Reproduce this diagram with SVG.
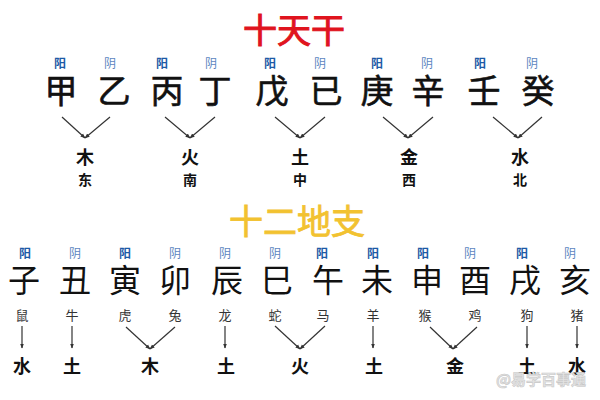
<svg xmlns="http://www.w3.org/2000/svg" width="600" height="400" viewBox="0 0 600 400">
<style>
text{font-family:"Noto Sans CJK SC","Noto Sans",sans-serif;text-anchor:middle}
.title1{font-size:34px;fill:#e0141e;stroke:#e0141e;stroke-width:1}
.title2{font-size:34px;fill:#f2c230;stroke:#f2c230;stroke-width:0.8}
.yang{font-size:12px;fill:#1d5aa6;font-weight:bold}
.yin{font-size:12px;fill:#5d86bf}
.stem{font-size:33px;fill:#111;stroke:#111;stroke-width:0.6}
.branch{font-size:32px;fill:#111}
.el{font-size:18px;font-weight:bold;fill:#111}
.dir{font-size:14px;font-weight:bold;fill:#111}
.el2{font-size:18px;font-weight:bold;fill:#111}
.animal{font-size:13px;fill:#333}
.wm{font-size:15px;font-weight:bold;fill:#e4e4e4;stroke:#c8c8c8;stroke-width:0.6;text-anchor:start}
.c{stroke:#333;stroke-width:1.2;fill:none;marker-end:url(#ah)}
</style>
<defs>
<marker id="ah" viewBox="0 0 10 10" refX="9" refY="5" markerWidth="5" markerHeight="5" orient="auto" markerUnits="userSpaceOnUse">
<path d="M0,1 L10,5 L0,9 z" fill="#333"/>
</marker>
</defs>
<rect width="600" height="400" fill="#fff"/>
<text id="title-tiangan" class="title1" x="294" y="43">十天干</text>
<text id="title-dizhi" class="title2" x="297" y="234">十二地支</text>

<g id="stems">
<g id="stem-jia"><text class="yang" x="60" y="68">阳</text><text class="stem" x="61" y="103">甲</text></g>
<g id="stem-yi"><text class="yin" x="110" y="68">阴</text><text class="stem" x="114" y="103">乙</text></g>
<g id="stem-bing"><text class="yang" x="162" y="68">阳</text><text class="stem" x="167" y="103">丙</text></g>
<g id="stem-ding"><text class="yin" x="211" y="68">阴</text><text class="stem" x="215" y="103">丁</text></g>
<g id="stem-wu"><text class="yang" x="270" y="68">阳</text><text class="stem" x="272" y="103">戊</text></g>
<g id="stem-ji"><text class="yin" x="320" y="68">阴</text><text class="stem" x="326" y="103">已</text></g>
<g id="stem-geng"><text class="yang" x="377" y="68">阳</text><text class="stem" x="377" y="103">庚</text></g>
<g id="stem-xin"><text class="yin" x="427" y="68">阴</text><text class="stem" x="428" y="103">辛</text></g>
<g id="stem-ren"><text class="yang" x="480" y="68">阳</text><text class="stem" x="484" y="103">壬</text></g>
<g id="stem-gui"><text class="yin" x="532" y="68">阴</text><text class="stem" x="538" y="103">癸</text></g>
</g>

<g id="stem-elements">
<g id="el-mu"><text class="el" x="85" y="164">木</text><text class="dir" x="85" y="185">东</text></g>
<g id="el-huo"><text class="el" x="190" y="164">火</text><text class="dir" x="190" y="185">南</text></g>
<g id="el-tu"><text class="el" x="300" y="164">土</text><text class="dir" x="300" y="185">中</text></g>
<g id="el-jin"><text class="el" x="409" y="164">金</text><text class="dir" x="409" y="185">西</text></g>
<g id="el-shui"><text class="el" x="520" y="164">水</text><text class="dir" x="520" y="185">北</text></g>
</g>

<g id="branches">
<g id="br-zi"><text class="yang" x="25" y="258">阳</text><text class="branch" x="24" y="292">子</text><text class="animal" x="22" y="320">鼠</text></g>
<g id="br-chou"><text class="yin" x="75" y="258">阴</text><text class="branch" x="75" y="292">丑</text><text class="animal" x="72" y="320">牛</text></g>
<g id="br-yin"><text class="yang" x="125" y="258">阳</text><text class="branch" x="125" y="292">寅</text><text class="animal" x="125" y="320">虎</text></g>
<g id="br-mao"><text class="yin" x="175" y="258">阴</text><text class="branch" x="175" y="292">卯</text><text class="animal" x="175" y="320">兔</text></g>
<g id="br-chen"><text class="yin" x="225" y="258">阴</text><text class="branch" x="227" y="292">辰</text><text class="animal" x="225" y="320">龙</text></g>
<g id="br-si"><text class="yin" x="275" y="258">阴</text><text class="branch" x="277" y="292">巳</text><text class="animal" x="275" y="320">蛇</text></g>
<g id="br-wu"><text class="yang" x="322" y="258">阳</text><text class="branch" x="328" y="292">午</text><text class="animal" x="323" y="320">马</text></g>
<g id="br-wei"><text class="yang" x="373" y="258">阳</text><text class="branch" x="377" y="292">未</text><text class="animal" x="373" y="320">羊</text></g>
<g id="br-shen"><text class="yang" x="423" y="258">阳</text><text class="branch" x="427" y="292">申</text><text class="animal" x="425" y="320">猴</text></g>
<g id="br-you"><text class="yin" x="470" y="258">阴</text><text class="branch" x="475" y="292">酉</text><text class="animal" x="475" y="320">鸡</text></g>
<g id="br-xu"><text class="yang" x="522" y="258">阳</text><text class="branch" x="525" y="292">戌</text><text class="animal" x="527" y="320">狗</text></g>
<g id="br-hai"><text class="yin" x="570" y="258">阴</text><text class="branch" x="575" y="292">亥</text><text class="animal" x="577" y="320">猪</text></g>
</g>

<g id="branch-elements">
<g id="be-shui1"><text class="el2" x="22" y="373">水</text></g>
<g id="be-tu1"><text class="el2" x="72" y="373">土</text></g>
<g id="be-mu"><text class="el2" x="150" y="373">木</text></g>
<g id="be-tu2"><text class="el2" x="226" y="373">土</text></g>
<g id="be-huo"><text class="el2" x="300" y="373">火</text></g>
<g id="be-tu3"><text class="el2" x="374" y="373">土</text></g>
<g id="be-jin"><text class="el2" x="455" y="373">金</text></g>
<g id="be-tu4"><text class="el2" x="527" y="373">土</text></g>
<g id="be-shui2"><text class="el2" x="577" y="373">水</text></g>
</g>

<g id="connectors">
<path class="c" d="M62,117 L85,138"/><path class="c" d="M110,117 L85,138"/>
<path class="c" d="M165,117 L190,138"/><path class="c" d="M215,117 L190,138"/>
<path class="c" d="M275,117 L300,138"/><path class="c" d="M325,117 L300,138"/>
<path class="c" d="M383,117 L408,138"/><path class="c" d="M433,117 L408,138"/>
<path class="c" d="M493,117 L518,138"/><path class="c" d="M542,117 L518,138"/>

<path class="c" d="M22,326 L22,348"/>
<path class="c" d="M72,326 L72,348"/>
<path class="c" d="M126,327 L150,349"/><path class="c" d="M175,327 L150,349"/>
<path class="c" d="M225,326 L225,348"/>
<path class="c" d="M275,326 L300,349"/><path class="c" d="M325,326 L300,349"/>
<path class="c" d="M373,326 L373,348"/>
<path class="c" d="M430,327 L453,349"/><path class="c" d="M477,327 L453,349"/>
<path class="c" d="M527,326 L527,348"/>
<path class="c" d="M577,326 L577,348"/>
</g>

<text id="watermark" class="wm" x="496" y="385">@易学百事通</text>
</svg>
